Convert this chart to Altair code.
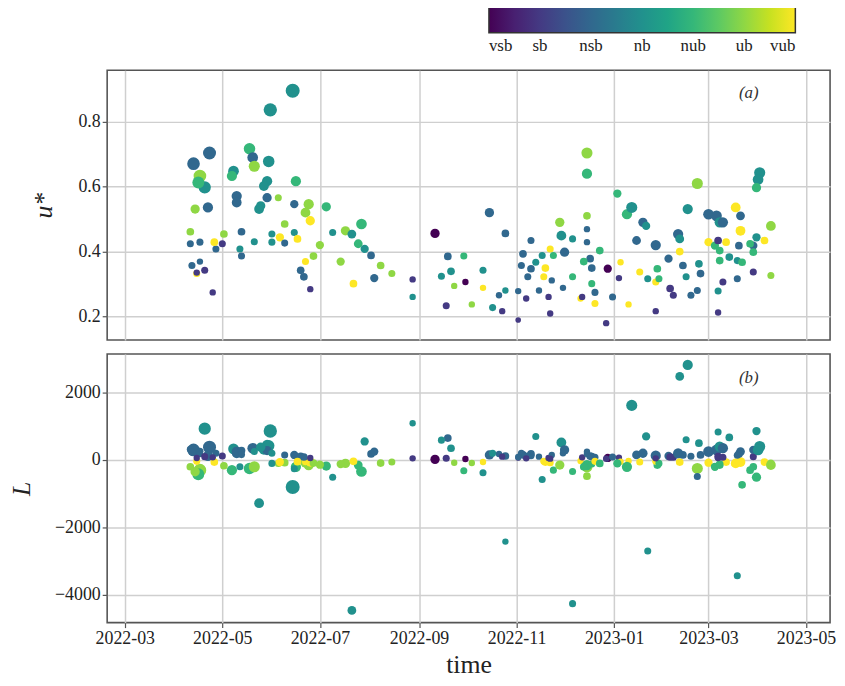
import json
import altair as alt
import pandas as pd

# ---- data ----
dates = [
    "2022-06-14", "2022-05-31", "2022-04-13", "2022-04-23", "2022-04-17", "2022-04-20", "2022-04-16", "2022-05-18",
    "2022-05-20", "2022-05-21", "2022-05-30", "2022-05-08", "2022-05-07", "2022-05-29", "2022-05-27", "2022-06-16",
    "2022-05-10", "2022-05-10", "2022-05-29", "2022-06-05", "2022-04-14", "2022-04-22", "2022-05-24", "2022-05-25",
    "2022-06-15", "2022-06-24", "2022-06-22", "2022-06-25", "2022-07-05", "2022-07-27", "2022-07-17", "2022-07-21",
    "2022-07-09", "2022-07-25", "2022-07-29", "2022-08-02", "2022-08-08", "2022-08-15", "2022-08-04", "2022-07-22",
    "2022-07-14", "2022-07-01", "2022-06-27", "2022-06-22", "2022-06-19", "2022-06-21", "2022-06-25", "2022-06-09",
    "2022-06-06", "2022-06-15", "2022-06-17", "2022-06-09", "2022-06-01", "2022-06-01", "2022-05-21", "2022-05-13",
    "2022-05-12", "2022-05-13", "2022-05-02", "2022-05-01", "2022-04-27", "2022-04-26", "2022-04-17", "2022-04-11",
    "2022-04-11", "2022-04-12", "2022-04-17", "2022-04-20", "2022-04-15", "2022-04-25", "2022-04-15",
    "2022-09-11", "2022-09-19", "2022-09-29", "2022-09-21", "2022-09-15", "2022-09-23", "2022-09-30", "2022-09-18",
    "2022-10-04", "2022-08-28", "2022-08-28",
    "2022-10-15", "2022-10-25", "2022-10-11", "2022-10-11", "2022-10-21", "2022-10-25", "2022-10-17", "2022-10-23",
    "2022-11-02", "2022-11-05", "2022-11-10", "2022-11-04", "2022-11-10", "2022-11-13", "2022-11-08", "2022-11-02",
    "2022-11-07", "2022-11-15", "2022-11-17", "2022-11-19", "2022-11-18", "2022-11-22", "2022-11-24", "2022-11-21",
    "2022-11-23", "2022-11-22", "2022-11-28", "2022-11-29", "2022-12-01", "2022-12-06", "2022-11-30", "2022-12-06",
    "2022-12-11", "2022-12-12", "2022-12-15", "2022-12-15", "2022-12-15", "2022-12-15", "2022-12-15", "2022-12-17",
    "2022-12-18", "2022-12-13", "2022-12-18", "2022-12-20", "2022-12-20", "2022-12-23", "2022-12-28", "2023-01-04",
    "2022-12-27", "2022-12-31", "2023-01-10", "2023-01-05", "2023-01-03", "2023-01-09", "2023-01-12", "2023-01-15",
    "2023-01-19", "2023-01-21", "2023-01-17", "2023-01-22", "2023-01-27", "2023-01-28", "2023-01-27", "2023-01-29",
    "2023-02-04", "2023-02-05", "2023-02-07", "2023-01-27", "2023-02-10", "2023-02-11", "2023-02-11", "2023-02-13",
    "2023-02-15", "2023-02-16", "2023-02-22", "2023-02-18", "2023-02-22", "2023-02-23", "2023-02-24", "2023-03-01",
    "2023-03-06", "2023-03-08", "2023-03-10", "2023-03-01", "2023-03-05", "2023-03-07", "2023-03-08", "2023-03-12",
    "2023-03-14", "2023-03-08", "2023-03-07", "2023-03-07", "2023-03-10", "2023-03-18", "2023-03-21", "2023-03-21",
    "2023-03-20", "2023-03-19", "2023-03-19", "2023-03-22", "2023-03-29", "2023-03-29", "2023-03-31", "2023-04-05",
    "2023-04-09", "2023-04-09", "2023-04-02", "2023-04-01", "2023-03-31", "2023-03-27", "2023-03-29",
]
ustar = [
    0.896, 0.837, 0.671, 0.704, 0.633, 0.598, 0.613, 0.717,
    0.690, 0.663, 0.678, 0.648, 0.633, 0.617, 0.602, 0.617,
    0.571, 0.551, 0.566, 0.566, 0.531, 0.536, 0.531, 0.541,
    0.546, 0.546, 0.520, 0.495, 0.538, 0.485, 0.464, 0.454,
    0.459, 0.424, 0.408, 0.388, 0.357, 0.332, 0.318, 0.301,
    0.369, 0.420, 0.386, 0.369, 0.342, 0.322, 0.284, 0.485,
    0.444, 0.459, 0.439, 0.426, 0.454, 0.429, 0.430, 0.461,
    0.408, 0.386, 0.454, 0.424, 0.408, 0.429, 0.429, 0.424,
    0.461, 0.357, 0.369, 0.342, 0.332, 0.274, 0.335,
    0.456, 0.385, 0.386, 0.339, 0.324, 0.294, 0.306, 0.233,
    0.237, 0.314, 0.260,
    0.520, 0.456, 0.342, 0.288, 0.265, 0.280, 0.227, 0.216,
    0.189, 0.393, 0.434, 0.357, 0.347, 0.367, 0.322, 0.278,
    0.255, 0.280, 0.388, 0.349, 0.322, 0.408, 0.388, 0.260,
    0.311, 0.209, 0.490, 0.449, 0.398, 0.439, 0.288, 0.322,
    0.255, 0.260, 0.510, 0.704, 0.640, 0.469, 0.429, 0.378,
    0.349, 0.369, 0.301, 0.274, 0.240, 0.403, 0.347, 0.318,
    0.179, 0.260, 0.237, 0.367, 0.579, 0.515, 0.536, 0.434,
    0.490, 0.479, 0.337, 0.316, 0.420, 0.347, 0.306, 0.316,
    0.378, 0.286, 0.265, 0.216, 0.454, 0.439, 0.400, 0.357,
    0.322, 0.531, 0.610, 0.265, 0.280, 0.362, 0.332, 0.515,
    0.510, 0.490, 0.490, 0.429, 0.418, 0.434, 0.403, 0.429,
    0.383, 0.372, 0.278, 0.212, 0.306, 0.536, 0.510, 0.464,
    0.418, 0.372, 0.316, 0.367, 0.337, 0.418, 0.444, 0.434,
    0.479, 0.326, 0.643, 0.622, 0.597, 0.424, 0.398,
]
obukhov = [
    -800, 860, 300, 380, -300, 930, -420, -250,
    350, -200, 420, 330, -300, 450, 300, -200,
    250, 200, 280, -100, -350, 120, -1280, 380,
    150, -150, -80, -60, -180, -340, -100, -4460,
    -510, -150, 550, 180, -90, -60, 250, -40,
    -120, -140, -90, -50, 110, 90, 60, -80,
    -60, -260, -50, 150, 200, -100, 250, 280,
    -200, 160, -170, 120, 200, -60, 260, 320,
    -200, 240, 180, 100, -40, 80, 60,
    20, 650, -320, 350, 590, -80, 30, 50,
    -90, 50, 1090,
    150, 120, -380, -60, 180, -2420, 200, 100,
    60, 150, 130, 200, 180, 700, 120, 90,
    50, 100, -580, -60, -40, -80, -300, 60,
    150, 40, -150, 520, 300, -4260, 200, -340,
    -30, 80, -480, -200, -150, 250, 180, 120,
    100, -200, -120, 80, -40, -100, 60, 70,
    40, 90, -30, -50, -100, -200, 1620, 150,
    200, 700, -60, -2700, 130, -150, -40, -100,
    120, 90, 80, 50, 200, 2480, -60, 150,
    600, 2820, -250, 110, -490, 500, 150, 250,
    300, 400, 350, -80, -200, 100, -150, -60,
    670, -120, 830, 60, 80, -100, 250, -60,
    180, -3430, 140, -735, 100, 300, 860, -60,
    -150, -90, 400, 300, -510, -300, -200,
]
stability = [
    3, 3, 2, 2, 5, 3, 4, 4,
    2, 5, 3, 3, 4, 3, 3, 4,
    2, 2, 2, 5, 5, 2, 3, 3,
    2, 5, 5, 6, 4, 4, 5, 3,
    3, 4, 3, 2, 5, 5, 2, 6,
    5, 5, 5, 6, 2, 2, 1, 5,
    6, 3, 6, 2, 3, 3, 3, 2,
    3, 2, 5, 1, 2, 6, 2, 2,
    5, 2, 2, 1, 6, 1, 1,
    0, 2, 4, 3, 3, 5, 0, 1,
    5, 1, 3,
    2, 2, 3, 6, 2, 3, 3, 1,
    1, 2, 2, 2, 2, 3, 2, 2,
    1, 2, 3, 6, 6, 6, 4, 1,
    2, 1, 5, 3, 2, 3, 2, 4,
    6, 1, 5, 5, 4, 2, 2, 2,
    2, 4, 4, 2, 6, 4, 0, 1,
    1, 2, 6, 6, 4, 4, 3, 2,
    2, 3, 6, 3, 2, 4, 6, 4,
    2, 1, 1, 1, 2, 3, 6, 2,
    3, 3, 5, 2, 2, 3, 2, 2,
    2, 3, 2, 6, 4, 1, 4, 6,
    3, 4, 3, 1, 1, 6, 2, 6,
    2, 3, 2, 4, 1, 2, 3, 6,
    5, 5, 3, 3, 4, 4, 4,
]
wind = [
    5.0, 4.6, 4.2, 4.4, 4.2, 4.0, 3.8, 3.6,
    3.2, 3.4, 3.6, 3.2, 3.0, 3.0, 2.8, 3.0,
    3.0, 2.8, 2.6, 1.8, 2.6, 3.0, 2.8, 2.6,
    2.2, 3.0, 2.8, 2.6, 2.6, 3.2, 2.6, 2.4,
    1.8, 2.4, 2.2, 2.0, 2.0, 1.8, 2.2, 2.0,
    2.2, 2.2, 2.0, 1.8, 2.0, 2.0, 1.6, 2.0,
    2.2, 1.8, 2.0, 1.8, 1.8, 1.8, 1.8, 2.0,
    1.8, 1.8, 2.0, 1.8, 1.8, 2.0, 1.8, 1.8,
    2.0, 1.8, 1.6, 1.8, 1.8, 1.6, 1.6,
    2.6, 2.0, 1.8, 2.0, 1.8, 1.6, 1.6, 1.8,
    1.6, 1.6, 1.6,
    2.6, 2.0, 1.8, 1.6, 1.6, 1.6, 1.8, 1.6,
    1.4, 2.0, 1.8, 1.8, 2.0, 1.8, 1.8, 1.6,
    1.6, 1.6, 1.8, 2.0, 1.8, 1.8, 1.8, 1.6,
    1.6, 1.6, 2.6, 2.8, 2.6, 1.8, 1.6, 1.8,
    1.6, 1.6, 2.0, 3.4, 3.0, 1.6, 1.6, 2.0,
    2.0, 2.0, 1.8, 1.8, 1.8, 2.0, 2.2, 1.6,
    1.6, 1.8, 1.6, 1.6, 2.2, 3.0, 3.4, 2.4,
    2.6, 2.2, 1.8, 1.8, 3.0, 2.0, 1.8, 1.8,
    2.2, 2.0, 1.8, 1.6, 3.0, 2.4, 2.0, 2.0,
    1.8, 3.0, 3.4, 1.8, 1.8, 2.0, 2.0, 3.2,
    3.2, 3.0, 3.0, 2.2, 2.2, 2.0, 2.0, 2.0,
    2.0, 2.0, 1.8, 1.6, 1.8, 2.8, 2.4, 2.8,
    2.0, 1.8, 1.8, 2.0, 1.8, 2.2, 2.2, 2.0,
    2.8, 1.8, 3.4, 3.2, 2.6, 2.0, 2.0,
]
class_labels = ["vsb", "sb", "nsb", "nb", "nub", "ub", "vub"]
class_codes = [0, 1, 2, 3, 4, 5, 6]
tick_months = [(2022, 3), (2022, 5), (2022, 7), (2022, 9), (2022, 11), (2023, 1), (2023, 3), (2023, 5)]
ustar_ticks = [0.2, 0.4, 0.6, 0.8]
L_ticks = [-4000, -2000, 0, 2000]
panel_labels = ["(a)", "(b)"]

df = pd.DataFrame({"time": dates, "ustar": ustar, "L": obukhov, "stab": stability, "ws": wind})

FONT = "Liberation Serif"
GRID = "#cfcfcf"
x_domain = [alt.DateTime(year=2022, month=2, date=18, utc=True),
            alt.DateTime(year=2023, month=5, date=16, utc=True)]
x_ticks = [alt.DateTime(year=y, month=m, date=1, utc=True) for (y, m) in tick_months]
x_scale = alt.Scale(type="utc", domain=x_domain)

label_expr = json.dumps(class_labels) + "[datum.value]"

color_top = alt.Color(
    "stab:Q",
    scale=alt.Scale(scheme="viridis", domain=[0, 6]),
    legend=alt.Legend(
        orient="none", legendX=385, legendY=-65, direction="horizontal",
        gradientLength=309, gradientThickness=27, title=None,
        values=class_codes, labelExpr=label_expr, labelFont=FONT, labelFontSize=17,
        labelColor="#222", gradientStrokeColor="#333", gradientStrokeWidth=1.5,
        labelOverlap=False, labelAlign="center", labelOffset=6,
    ),
)
color_bottom = alt.Color("stab:Q", scale=alt.Scale(scheme="viridis", domain=[0, 6]), legend=None)
size_enc = alt.Size("ws:Q", scale=alt.Scale(domain=[1.4, 5.0], range=[32, 200]), legend=None)

W = 729

top_pts = alt.Chart(df).mark_circle(opacity=1).encode(
    x=alt.X("time:T", scale=x_scale,
            axis=alt.Axis(values=x_ticks, labels=False, ticks=False, domain=False, title=None,
                          grid=True, gridColor=GRID, gridWidth=1.5)),
    y=alt.Y("ustar:Q", scale=alt.Scale(domain=[0.127, 0.959], nice=False, zero=False),
            axis=alt.Axis(values=ustar_ticks, format=".1f", title="u*", titleFontStyle="italic",
                          titlePadding=22)),
    color=color_top,
    size=size_enc,
)
top_lab = alt.Chart(pd.DataFrame({"t": [panel_labels[0]]})).mark_text(
    font=FONT, fontSize=17, fontStyle="italic", color="#333"
).encode(text="t:N", x=alt.value(647), y=alt.value(23))
top = alt.layer(top_pts, top_lab).properties(width=W, height=272)

bot_pts = alt.Chart(df).mark_circle(opacity=1).encode(
    x=alt.X("time:T", scale=x_scale,
            axis=alt.Axis(values=x_ticks, format="%Y-%m", title="time", titleFontStyle="normal",
                          titleFontSize=26, titlePadding=4, domain=False,
                          grid=True, gridColor=GRID, gridWidth=1.5)),
    y=alt.Y("L:Q", scale=alt.Scale(domain=[-4824, 3147], nice=False, zero=False),
            axis=alt.Axis(values=L_ticks, format="d", title="L", titleFontStyle="italic",
                          titlePadding=20)),
    color=color_bottom,
    size=size_enc,
)
bot_lab = alt.Chart(pd.DataFrame({"t": [panel_labels[1]]})).mark_text(
    font=FONT, fontSize=17, fontStyle="italic", color="#333"
).encode(text="t:N", x=alt.value(647), y=alt.value(24))
bottom = alt.layer(bot_pts, bot_lab).properties(width=W, height=271)

chart = alt.vconcat(top, bottom, spacing=12).resolve_scale(
    color="independent", size="independent"
).properties(
    padding={"left": 0, "top": -6, "right": 0, "bottom": 0}
).configure_view(
    stroke="#555", strokeWidth=1.6
).configure_axis(
    labelFont=FONT, labelFontSize=18, labelColor="#222",
    titleFont=FONT, titleFontSize=26, titleFontWeight="normal", titleColor="#222",
    tickColor="#555", tickSize=5, tickWidth=1.2, domain=False,
    grid=True, gridColor=GRID, gridWidth=1.5,
).configure_axisY(
    domain=False,
)

chart.save("out.html", embed_options={"renderer": "svg", "actions": False})
